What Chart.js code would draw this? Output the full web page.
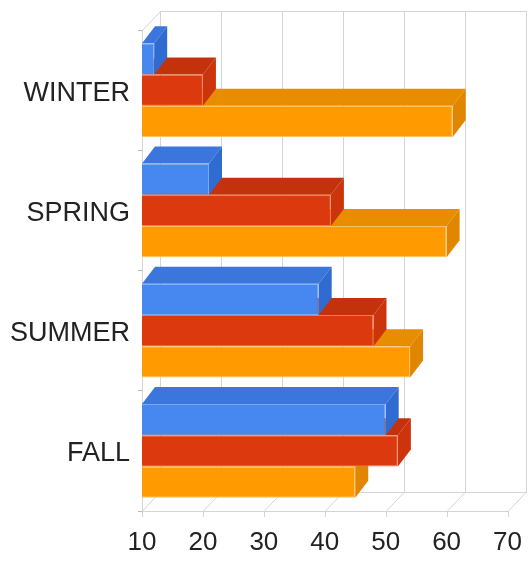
<!DOCTYPE html>
<html>
<head>
<meta charset="utf-8">
<script src="https://cdn.jsdelivr.net/npm/chart.js@4.4.1/dist/chart.umd.min.js"></script>
<style>
  html, body { margin: 0; padding: 0; background: #fff; }
  #wrap { width: 530px; height: 563px; }
</style>
</head>
<body>
<div id="wrap"><canvas id="chart" width="530" height="563"></canvas></div>
<script>
const seasons = ['WINTER', 'SPRING', 'SUMMER', 'FALL'];
const blueVals = [12, 21, 39, 50];
const redVals = [20, 41, 48, 52];
const orangeVals = [61, 60, 54, 45];
const xTicks = [10, 20, 30, 40, 50, 60, 70];

// front / top / side colours per series
const shades = [
  { front: '#4688ef', top: '#3a76dc', side: '#306bd2', edge: '#7aaaf5' },
  { front: '#dc3a0e', top: '#c4320c', side: '#cc340b', edge: '#ee7a55' },
  { front: '#ff9a00', top: '#e88c00', side: '#e08600', edge: '#ffc25a' }
];
const BAR_DX = 13, BAR_DY = -17;   // bar depth
const WALL_DX = 18, WALL_DY = -19; // grid depth

const threeD = {
  id: 'threeD',
  beforeDatasetsDraw(chart) {
    const { ctx, chartArea: a, scales: { x } } = chart;
    ctx.save();
    ctx.strokeStyle = '#d4d4d4';
    ctx.lineWidth = 1;
    ctx.beginPath();
    // back wall verticals + floor slants + ticks
    xTicks.forEach(v => {
      const px = Math.round(x.getPixelForValue(v)) + 0.5;
      ctx.moveTo(px + WALL_DX, a.top + WALL_DY);
      ctx.lineTo(px + WALL_DX, a.bottom + WALL_DY);
      ctx.lineTo(px, a.bottom);
      ctx.lineTo(px, a.bottom + 6);
    });
    const l = Math.round(a.left) + 0.5, r = Math.round(x.getPixelForValue(70)) + 0.5;
    const t = Math.round(a.top) + 0.5, b = Math.round(a.bottom) + 0.5;
    ctx.moveTo(l + WALL_DX, t + WALL_DY); ctx.lineTo(r + WALL_DX, t + WALL_DY);
    ctx.moveTo(l, t); ctx.lineTo(l + WALL_DX, t + WALL_DY);
    ctx.moveTo(l + WALL_DX, b + WALL_DY); ctx.lineTo(r + WALL_DX, b + WALL_DY);
    ctx.moveTo(l, b); ctx.lineTo(r, b);
    ctx.stroke();
    ctx.restore();
  },
  beforeDatasetDraw(chart, args) {
    const { ctx } = chart;
    const sh = shades[args.index];
    ctx.save();
    args.meta.data.forEach(el => {
      const { x, y, base, height } = el.getProps(['x', 'y', 'base', 'height'], true);
      const top = y - height / 2, bot = y + height / 2;
      ctx.fillStyle = sh.top;
      ctx.beginPath();
      ctx.moveTo(base, top); ctx.lineTo(x, top);
      ctx.lineTo(x + BAR_DX, top + BAR_DY); ctx.lineTo(base + BAR_DX, top + BAR_DY);
      ctx.closePath(); ctx.fill();
      ctx.fillStyle = sh.side;
      ctx.beginPath();
      ctx.moveTo(x, top); ctx.lineTo(x + BAR_DX, top + BAR_DY);
      ctx.lineTo(x + BAR_DX, bot + BAR_DY); ctx.lineTo(x, bot);
      ctx.closePath(); ctx.fill();
    });
    ctx.restore();
  }
};

new Chart(document.getElementById('chart'), {
  type: 'bar',
  data: {
    labels: seasons,
    datasets: [
      { label: 'Blue', data: blueVals },
      { label: 'Red', data: redVals },
      { label: 'Orange', data: orangeVals }
    ].map((d, i) => Object.assign(d, {
      base: 10,
      backgroundColor: shades[i].front,
      borderColor: shades[i].edge,
      borderWidth: 1,
      borderSkipped: 'left',
      categoryPercentage: 0.78,
      barPercentage: 1.0
    }))
  },
  options: {
    indexAxis: 'y',
    responsive: false,
    animation: false,
    layout: { padding: { top: 30, right: 3, bottom: 0, left: 0 } },
    plugins: { legend: { display: false }, tooltip: { enabled: false } },
    scales: {
      x: {
        min: 10, max: 70,
        afterBuildTicks: s => { s.ticks = xTicks.map(v => ({ value: v })); },
        grid: { display: false },
        border: { display: false },
        ticks: { color: '#222', padding: 8, font: { family: 'Liberation Sans', size: 26 } },
        afterFit: s => { s.height = 52; }
      },
      y: {
        grid: { drawOnChartArea: false, offset: true, tickLength: 4, color: '#bbb' },
        border: { display: true, color: '#d4d4d4' },
        ticks: { color: '#222', padding: 8, labelOffset: 3, font: { family: 'Liberation Sans', size: 27 } },
        afterFit: s => { s.width = 142; }
      }
    }
  },
  plugins: [threeD]
});
</script>
</body>
</html>
